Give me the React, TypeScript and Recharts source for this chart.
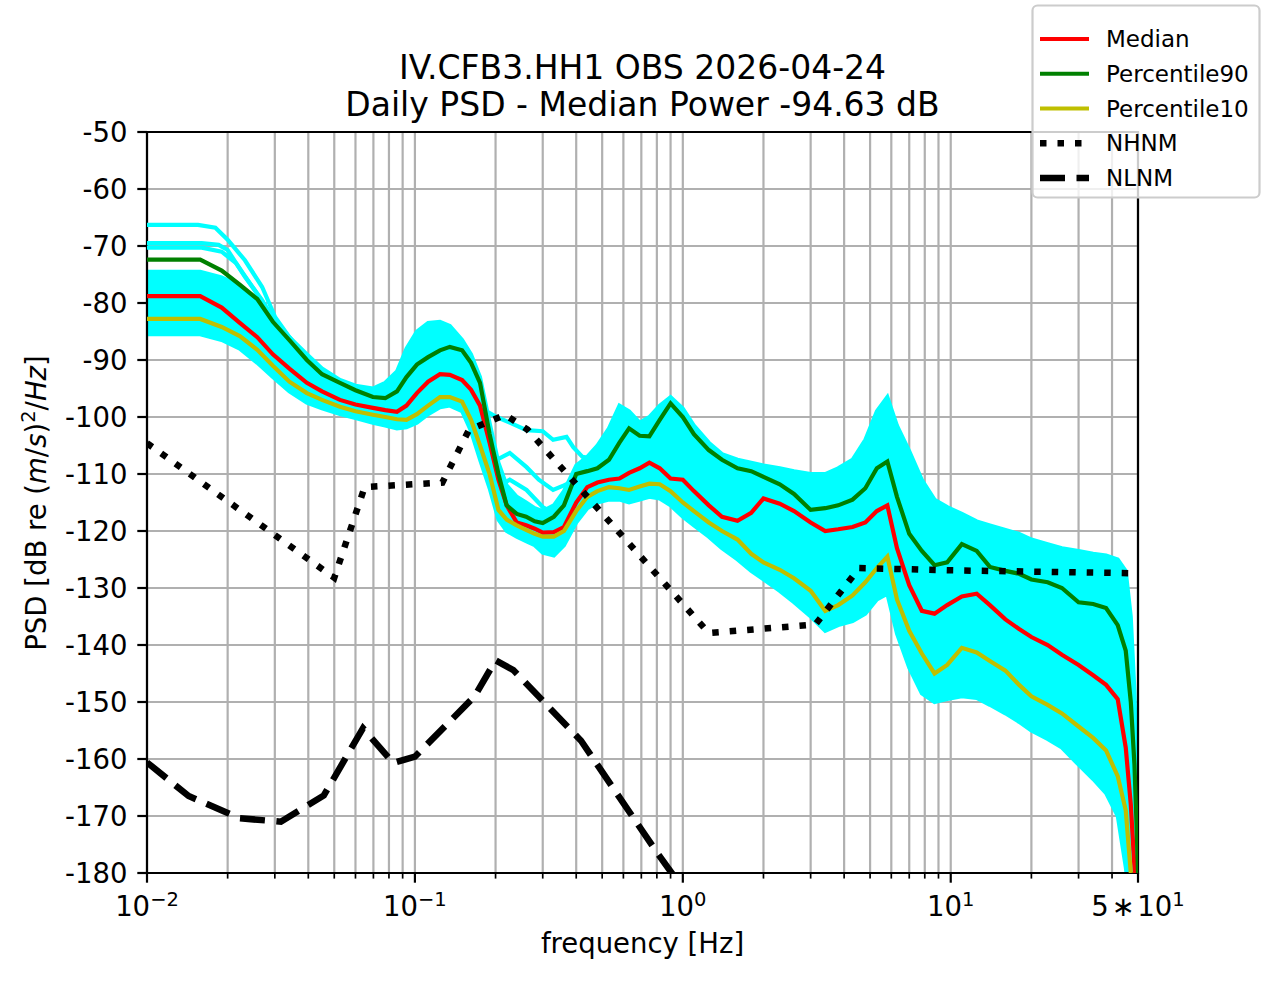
import React from 'react';
import { ComposedChart, Line, Area, XAxis, YAxis, CartesianGrid, ReferenceArea } from 'recharts';

// shared frequency grid (Hz) for the daily statistics
const freqHz = [
  0.01, 0.0158, 0.019, 0.0222, 0.0258, 0.0295, 0.034, 0.0395, 0.045, 0.0525,
  0.06, 0.0697, 0.0775, 0.0857, 0.093, 0.1017, 0.112, 0.124, 0.135, 0.15,
  0.162, 0.175, 0.19, 0.205, 0.22, 0.24, 0.26, 0.28, 0.3, 0.33,
  0.36, 0.4, 0.44, 0.48, 0.53, 0.58, 0.63, 0.69, 0.75, 0.82,
  0.9, 1.0, 1.1, 1.25, 1.4, 1.6, 1.8, 2.0, 2.3, 2.6,
  3.0, 3.4, 3.8, 4.3, 4.8, 5.3, 5.8, 6.3, 7.0, 7.8,
  8.7, 9.7, 11, 12.5, 14, 16, 18, 20, 23, 26,
  30, 34, 38, 42, 45, 47, 48.5, 49.5, 50,
];

const medianDb = [
  -78.8, -78.8, -80.8, -83.5, -86, -89, -91.5, -94, -95.5, -97,
  -97.8, -98.4, -98.8, -99.1, -98, -95.8, -93.8, -92.5, -92.6, -93.5,
  -95.2, -98, -104.5, -111, -115.5, -118.5, -119, -119.6, -120.3, -120.2,
  -119.3, -115, -112.3, -111.5, -111, -110.8, -109.8, -109, -108, -109,
  -110.8, -111, -113, -115.5, -117.5, -118.2, -116.8, -114.3, -115.2, -116.5,
  -118.5, -120, -119.7, -119.3, -118.5, -116.5, -115.5, -123, -129.5, -134,
  -134.5, -133, -131.5, -131, -133, -135.5, -137.2, -138.6, -140, -141.7,
  -143.5, -145.3, -147, -149.5, -158, -168, -179, -185, -188,
];

const p90Db = [
  -72.4, -72.4, -74.3, -76.8, -79.3, -83.3, -86.5, -90, -92.5, -94,
  -95.3, -96.5, -96.7, -95.5, -93, -90.8, -89.5, -88.3, -87.7, -88.3,
  -90.5, -94, -103, -110, -115.5, -117, -117.5, -118.3, -118.6, -117.5,
  -115.5, -110, -109.5, -109, -107.5, -104.5, -102, -103.3, -103.4, -100.5,
  -97.6, -100, -103, -105.8, -107.5, -109, -109.5, -110.5, -111.8, -113.5,
  -116.3, -116, -115.5, -114.5, -112.5, -109, -107.8, -114, -120.5, -123.5,
  -126, -125.5, -122.3, -123.5, -126.3, -127, -127.5, -128.5, -129, -130,
  -132.5, -132.8, -133.5, -136.5, -141, -150, -161, -173, -180,
];

const p10Db = [
  -82.8, -82.8, -84.2, -85.8, -88.2, -91, -93.8, -95.8, -97, -98.2,
  -99, -99.6, -100, -100.4, -100.5, -99.5, -98, -96.5, -96.5, -97.3,
  -100.5, -105, -110, -116.3, -118, -119, -119.8, -120.5, -121, -121,
  -120, -116.5, -114, -113, -112.3, -112.5, -112.8, -112.2, -111.7, -111.8,
  -113, -115, -116.5, -118.5, -120, -121.5, -124, -125.5, -126.8, -128.3,
  -130.5, -134, -133, -131.3, -129, -126.5, -124.5, -132, -137.5, -141.5,
  -145, -143.5, -140.5, -141.3, -142.8, -144.5, -147, -149, -150.5, -152,
  -154.3, -156.3, -158.5, -163, -169, -180, -186, -190, -190,
];

// envelope of the hourly PSD curves
const hourlyLowDb = [
  -85.5, -85.5, -86.5, -88, -90.5, -93, -95.5, -97.5, -98.5, -99.5,
  -100.2, -101, -101.5, -102, -101.8, -101, -99.5, -98.3, -98, -99,
  -102.5, -107.5, -112.5, -118, -120, -121, -121.8, -122.5, -123.8, -124.3,
  -122.5, -118.5, -116, -115, -114.5, -114.5, -115, -114.5, -114, -114.3,
  -115.5, -117.5, -119, -121, -123, -125, -127, -128.5, -130.5, -132.5,
  -135, -137.5, -136.5, -135.8, -134.5, -132, -131, -138, -144, -148.5,
  -150, -149.5, -149, -149.3, -150.5, -152, -153.5, -155, -156.5, -158,
  -161, -163.5, -166, -170, -179, -186, -190, -190, -190,
];

const hourlyHighDb = [
  -74.5, -74.5, -75.5, -77, -80, -83, -86, -89, -91.5, -93.5,
  -94.5, -95, -94, -92, -88, -85, -83.5, -83.3, -84, -86.5,
  -89, -93, -101, -108, -112, -114, -115, -116, -116.5, -115.5,
  -113, -108.5, -107, -105, -102, -98, -99, -101, -100, -98,
  -96.5, -98.5, -101.5, -104.5, -106.5, -107.5, -108, -108.5, -109, -109.5,
  -110, -110, -109, -107.5, -104, -99, -96.5, -101.5, -106, -111,
  -114.5, -115.8, -117, -118.3, -119, -119.8, -120.5, -121.5, -122.3, -123,
  -123.5, -124, -124.3, -125, -127, -135, -148, -162, -175,
];

// single hourly curves that stand out of the envelope
const traceAFreq = [0.01, 0.0155, 0.018, 0.02, 0.0232, 0.0269, 0.0301, 0.034, 0.04];
const traceADb = [-66.3, -66.3, -66.8, -68.9, -72.5, -77.2, -82.5, -86, -90];
const traceBFreq = [0.01, 0.016, 0.0185, 0.02, 0.0232, 0.0269, 0.0301, 0.034, 0.04];
const traceBDb = [-69.5, -69.5, -69.8, -70.7, -75.4, -79.5, -83.5, -86.5, -90];
const traceCFreq = [0.01, 0.016, 0.019, 0.0215, 0.025, 0.029, 0.034, 0.04];
const traceCDb = [-70.3, -70.3, -71, -73, -77.5, -82, -86, -90];
const traceDFreq = [0.17, 0.185, 0.202, 0.226, 0.261, 0.3, 0.328, 0.368, 0.39, 0.422, 0.49];
const traceDDb = [-95, -99, -100, -101, -102.3, -102.5, -104, -103.5, -105.3, -107, -107.5];
const traceEFreq = [0.18, 0.202, 0.226, 0.261, 0.29, 0.328, 0.36, 0.4];
const traceEDb = [-100, -107.5, -106.3, -108.8, -111, -112.8, -112, -111];
const traceFFreq = [0.19, 0.202, 0.226, 0.261, 0.3, 0.33, 0.38, 0.42];
const traceFDb = [-106, -112.3, -111, -112.8, -115.8, -117, -114, -112];

// Peterson new high / low noise models
const nhnmFreq = [0.01, 0.05, 0.0649, 0.1266, 0.159, 0.217, 0.263, 1.25, 3.125, 4.55, 10, 47];
const nhnmDb = [-104.6, -128.2, -112.3, -111.5, -102.3, -99.6, -102.2, -137.9, -136.4, -126.5, -126.9, -127.4];
const nlnmFreq = [0.01, 0.0143, 0.0222, 0.0316, 0.0457, 0.064, 0.083, 0.1, 0.167, 0.2, 0.233, 0.417, 0.806, 1.25];
const nlnmDb = [-160.6, -166.5, -170.4, -171, -166.4, -154.6, -160.7, -159.6, -149, -142.7, -144.4, -156.8, -176.6, -189];

const yTicks = [-50, -60, -70, -80, -90, -100, -110, -120, -130, -140, -150, -160, -170, -180];
const xMajorTicks = [0.01, 0.1, 1, 10, 50];
const xMajorBase = ['10', '10', '10', '10', '5\u200a\u2217\u200a10'];
const xMajorExp = ['\u22122', '\u22121', '0', '1', '1'];
const xMinorTicks = [
  0.02, 0.03, 0.04, 0.05, 0.06, 0.07, 0.08, 0.09,
  0.2, 0.3, 0.4, 0.5, 0.6, 0.7, 0.8, 0.9,
  2, 3, 4, 5, 6, 7, 8, 9,
  20, 30, 40,
];
const xTicks = [...xMajorTicks, ...xMinorTicks].sort((a, b) => a - b);

const psdRows = freqHz.map((f, i) => ({
  f,
  median: medianDb[i],
  p90: p90Db[i],
  p10: p10Db[i],
  band: [hourlyLowDb[i], hourlyHighDb[i]],
}));

const toRows = (fs: number[], dbs: number[]) => fs.map((f, i) => ({ f, db: dbs[i] }));
const hourlyTraces = [
  toRows(traceAFreq, traceADb),
  toRows(traceBFreq, traceBDb),
  toRows(traceCFreq, traceCDb),
  toRows(traceDFreq, traceDDb),
  toRows(traceEFreq, traceEDb),
  toRows(traceFFreq, traceFDb),
];

const FONT = 'DejaVu Sans';

const XTick = (props: any) => {
  const { x, y, payload } = props;
  const idx = xMajorTicks.indexOf(payload.value);
  const major = idx >= 0;
  return (
    <g>
      <line x1={x} x2={x} y1={y} y2={y + (major ? 9.7 : 5.6)} stroke="#000" strokeWidth={major ? 2.2 : 1.7} />
      {major && (
        <text x={x} y={y + 43} textAnchor="middle" fontSize={27.5} fontFamily={FONT} fill="#000">
          <tspan>{xMajorBase[idx]}</tspan>
          <tspan fontSize={19.5} dy={-10}>{xMajorExp[idx]}</tspan>
        </text>
      )}
    </g>
  );
};

const YTick = (props: any) => {
  const { x, y, payload } = props;
  return (
    <g>
      <line x1={x - 9.7} x2={x} y1={y} y2={y} stroke="#000" strokeWidth={2.2} />
      <text x={x - 19.5} y={y + 10} textAnchor="end" fontSize={27.5} fontFamily={FONT} fill="#000">
        {String(payload.value)}
      </text>
    </g>
  );
};

const legendRows = [
  { name: 'Median', color: '#ff0000', dash: undefined, width: 4.2 },
  { name: 'Percentile90', color: '#008000', dash: undefined, width: 4.2 },
  { name: 'Percentile10', color: '#bfbf00', dash: undefined, width: 4.2 },
  { name: 'NHNM', color: '#000000', dash: '6.5 11', width: 6.5 },
  { name: 'NLNM', color: '#000000', dash: '25 11.5', width: 6.5 },
];

export default function App() {
  return (
    <div style={{ position: 'absolute', left: 0, top: 0, width: 1278, height: 981, background: '#fff' }}>
      <ComposedChart width={1278} height={981} data={psdRows} margin={{ top: 132, right: 140, bottom: 48, left: 67 }}>
        <CartesianGrid stroke="#b0b0b0" strokeWidth={2.2} />
        <XAxis
          dataKey="f"
          type="number"
          scale="log"
          domain={[0.01, 50]}
          allowDataOverflow
          ticks={xTicks}
          interval={0}
          tick={<XTick />}
          tickLine={false}
          axisLine={false}
          tickSize={0}
          tickMargin={0}
          height={60}
        />
        <YAxis
          type="number"
          domain={[-180, -50]}
          allowDataOverflow
          ticks={yTicks}
          interval={0}
          tick={<YTick />}
          tickLine={false}
          axisLine={false}
          tickSize={0}
          tickMargin={0}
          width={80}
        />
        <Area
          dataKey="band"
          type="linear"
          fill="#00ffff"
          fillOpacity={1}
          stroke="#00ffff"
          strokeWidth={4}
          dot={false}
          activeDot={false}
          isAnimationActive={false}
        />
        {hourlyTraces.map((rows, i) => (
          <Line
            key={`hour-${i}`}
            data={rows}
            dataKey="db"
            type="linear"
            stroke="#00ffff"
            strokeWidth={4.2}
            dot={false}
            activeDot={false}
            isAnimationActive={false}
          />
        ))}
        <Line dataKey="median" type="linear" stroke="#ff0000" strokeWidth={4.2} dot={false} activeDot={false} isAnimationActive={false} />
        <Line dataKey="p90" type="linear" stroke="#008000" strokeWidth={4.2} dot={false} activeDot={false} isAnimationActive={false} />
        <Line dataKey="p10" type="linear" stroke="#bfbf00" strokeWidth={4.2} dot={false} activeDot={false} isAnimationActive={false} />
        <Line
          data={toRows(nhnmFreq, nhnmDb)}
          dataKey="db"
          type="linear"
          stroke="#000"
          strokeWidth={6.5}
          strokeDasharray="6.5 11"
          dot={false}
          activeDot={false}
          isAnimationActive={false}
        />
        <Line
          data={toRows(nlnmFreq, nlnmDb)}
          dataKey="db"
          type="linear"
          stroke="#000"
          strokeWidth={6.5}
          strokeDasharray="25 11.5"
          dot={false}
          activeDot={false}
          isAnimationActive={false}
        />
        <ReferenceArea x1={0.01} x2={50} y1={-180} y2={-50} fill="none" stroke="#000" strokeWidth={2.2} ifOverflow="visible" />
      </ComposedChart>

      <svg width={1278} height={981} style={{ position: 'absolute', left: 0, top: 0, pointerEvents: 'none' }}>
        <g fontFamily={FONT} fill="#000">
          <text x={642.5} y={79} textAnchor="middle" fontSize={33}>IV.CFB3.HH1 OBS 2026-04-24</text>
          <text x={642.5} y={116} textAnchor="middle" fontSize={33}>Daily PSD - Median Power -94.63 dB</text>
          <text x={642.5} y={953} textAnchor="middle" fontSize={27.5}>frequency [Hz]</text>
          <text transform="translate(46,503) rotate(-90)" textAnchor="middle" fontSize={27.5}>
            {'PSD [dB re ('}
            <tspan fontStyle="italic">m</tspan>
            <tspan>/</tspan>
            <tspan fontStyle="italic">s</tspan>
            <tspan>)</tspan>
            <tspan fontSize={19.5} dy={-11}>2</tspan>
            <tspan dy={11}>/</tspan>
            <tspan fontStyle="italic">Hz</tspan>
            <tspan>]</tspan>
          </text>
        </g>
        <rect x={1032.5} y={5.5} width={227} height={192} rx={5} fill="#fff" fillOpacity={0.8} stroke="#cccccc" strokeWidth={2.2} />
        {legendRows.map((r, i) => {
          const cy = 39 + i * 34.75;
          return (
            <g key={r.name}>
              <line x1={1040} x2={1089} y1={cy} y2={cy} stroke={r.color} strokeWidth={r.width} strokeDasharray={r.dash} />
              <text x={1106} y={cy + 8} fontSize={23} fontFamily={FONT} fill="#000">{r.name}</text>
            </g>
          );
        })}
      </svg>
    </div>
  );
}
